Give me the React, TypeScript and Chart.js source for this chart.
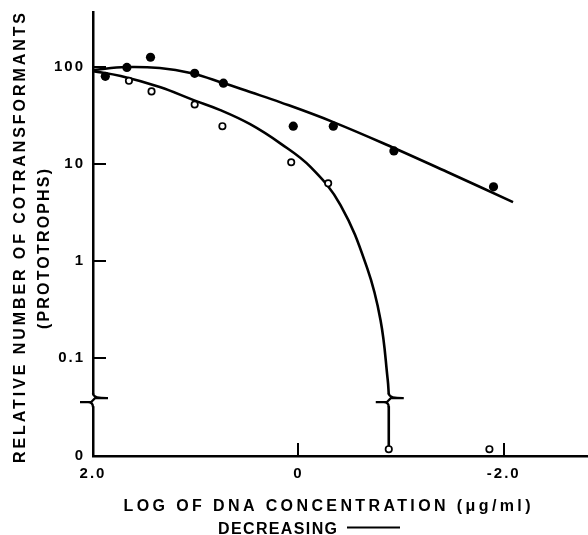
import React, { useEffect, useRef } from 'react';
import { Chart, registerables } from 'chart.js';

Chart.register(...registerables);

// Measured points (log DNA concentration, relative number of cotransformants)
const filledX = [1.88, 1.67, 1.44, 1.01, 0.73, 0.05, -0.34, -0.93, -1.9];
const filledY = [80, 99, 126, 86, 68, 24.5, 24.5, 13.6, 5.8];
const openX = [1.65, 1.43, 1.01, 0.74, 0.07, -0.29, -0.88, -1.86];
const openY = [72, 56, 41, 24.5, 10.4, 6.3, 0, 0];

// Hand-drawn fitted curves
const fitFilledX = [2.0, 1.68, 1.35, 1.05, 0.73, 0.47, 0.18, -0.34, -0.93, -1.45, -2.09];
const fitFilledY = [93, 99.8, 97.4, 86.6, 68.2, 55.1, 43.4, 27.0, 14.6, 8.24, 4.04];
const fitOpenX = [2.0, 1.73, 1.35, 1.02, 0.76, 0.47, 0.18, -0.12, -0.41, -0.67, -0.8, -0.87, -0.88];
const fitOpenY = [90.7, 80.6, 62.0, 45.5, 35.9, 25.7, 16.4, 9.27, 3.76, 0.84, 0.244, 0.059, 0.042];
const openTailX = [-0.88, -0.88];
const openTailY = [0.0316, 0];

// Ticks
const xTickValues = [2, 0, -2];
const xTickLabels = ['2.0', '0', '-2.0'];
const yTickValues = [0, 0.1, 1, 10, 100];
const yTickLabels = ['0', '0.1', '1', '10', '100'];

// Axis ranges and break
const X_MIN = -2.82;
const X_MAX = 2.0;
const Y_MIN = 0.0097; // axis bottom, labelled "0"
const Y_MAX = 369;
const ZERO_PLOT = 0.0114; // where zero values sit, just above the axis
const BREAK_Y = 0.0365;
const BREAK_X = -0.88;

const yTitle1 = 'RELATIVE NUMBER OF COTRANSFORMANTS';
const yTitle2 = '(PROTOTROPHS)';
const xTitle1 = 'LOG OF DNA CONCENTRATION (\u03bcg/ml)';
const xTitle2 = 'DECREASING';

const FONT_FAMILY = '"Liberation Sans", Arial, Helvetica, sans-serif';

const plotY = (v: number) => (v === 0 ? ZERO_PLOT : v);
const toPts = (xs: number[], ys: number[]) => xs.map((x, i) => ({ x, y: plotY(ys[i]) }));

function drawSpaced(ctx: CanvasRenderingContext2D, text: string, cx: number, cy: number, width: number, rotate: boolean, size: number) {
  ctx.save();
  ctx.translate(cx, cy);
  if (rotate) ctx.rotate(-Math.PI / 2);
  (ctx as any).letterSpacing = '0px';
  const w0 = ctx.measureText(text).width;
  const n = Array.from(text).length;
  const sp = (width - w0) / (n - 1);
  (ctx as any).letterSpacing = sp + 'px';
  ctx.textAlign = 'left';
  ctx.textBaseline = 'alphabetic';
  ctx.fillText(text, -width / 2, size * 0.716 / 2);
  ctx.restore();
}

function drawBreak(ctx: CanvasRenderingContext2D, cx: number, cy: number) {
  ctx.beginPath();
  ctx.moveTo(cx, cy - 7);
  ctx.quadraticCurveTo(cx, cy - 2, cx + 14, cy - 2);
  ctx.moveTo(cx + 15, cy - 2);
  ctx.lineTo(cx + 2, cy - 2);
  ctx.lineTo(cx - 2, cy + 2);
  ctx.lineTo(cx - 13, cy + 2);
  ctx.moveTo(cx - 5, cy + 2);
  ctx.quadraticCurveTo(cx, cy + 2, cx, cy + 7);
  ctx.stroke();
}

const decor = {
  id: 'decor',
  beforeDraw(chart: any) {
    chart.ctx.letterSpacing = '2px';
  },
  afterDraw(chart: any) {
    const { ctx, chartArea: ca, scales } = chart;
    const x = scales.x;
    const y = scales.y;
    ctx.save();
    ctx.letterSpacing = '0px';
    ctx.strokeStyle = '#000';
    ctx.lineWidth = 2;
    // inward tick marks
    ctx.beginPath();
    for (const v of yTickValues) {
      if (v === 0) continue;
      const py = Math.round(y.getPixelForValue(v));
      ctx.moveTo(ca.left, py);
      ctx.lineTo(ca.left + 13, py);
    }
    for (const v of xTickValues) {
      if (v === X_MAX) continue;
      const px = Math.round(x.getPixelForValue(v));
      ctx.moveTo(px, ca.bottom);
      ctx.lineTo(px, ca.bottom - 13);
    }
    ctx.stroke();
    // axis break on y axis
    const by = y.getPixelForValue(BREAK_Y);
    ctx.fillStyle = '#fff';
    ctx.fillRect(ca.left - 3, by - 6, 6, 12);
    ctx.lineWidth = 2.3;
    drawBreak(ctx, ca.left, by);
    // break on open-circle curve
    drawBreak(ctx, x.getPixelForValue(BREAK_X), by);
    // titles
    ctx.fillStyle = '#000';
    const size = 16;
    ctx.font = `bold ${size}px ${FONT_FAMILY}`;
    drawSpaced(ctx, yTitle1, ca.left - 74, 238, 450, true, size);
    drawSpaced(ctx, yTitle2, ca.left - 50, 249, 160, true, size);
    drawSpaced(ctx, xTitle1, 327, ca.bottom + 49, 407, false, size);
    drawSpaced(ctx, xTitle2, 277.5, ca.bottom + 72, 119, false, size);
    ctx.lineWidth = 2;
    ctx.beginPath();
    ctx.moveTo(347, ca.bottom + 71.5);
    ctx.lineTo(400, ca.bottom + 71.5);
    ctx.stroke();
    ctx.restore();
  },
};

export default function App() {
  const ref = useRef<HTMLCanvasElement>(null);
  useEffect(() => {
    const tickFont = { family: FONT_FAMILY, size: 15, weight: 'bold' as const };
    const lineDs = (xs: number[], ys: number[], tension: number) => ({
      data: toPts(xs, ys),
      showLine: true,
      pointRadius: 0,
      borderColor: '#000',
      backgroundColor: '#000',
      borderWidth: 2.6,
      tension,
      order: 2,
    });
    const chart = new Chart(ref.current as HTMLCanvasElement, {
      type: 'scatter',
      data: {
        datasets: [
          {
            data: toPts(filledX, filledY),
            pointRadius: 4.6,
            pointBackgroundColor: '#000',
            pointBorderColor: '#000',
            pointBorderWidth: 0,
            showLine: false,
            order: 0,
          },
          {
            data: toPts(openX, openY),
            pointRadius: 3.2,
            pointBackgroundColor: '#fff',
            pointBorderColor: '#000',
            pointBorderWidth: 1.7,
            showLine: false,
            order: 0,
          },
          lineDs(fitFilledX, fitFilledY, 0.4),
          lineDs(fitOpenX, fitOpenY, 0.4),
          lineDs(openTailX, openTailY, 0),
        ] as any,
      },
      options: {
        responsive: false,
        animation: false,
        events: [],
        layout: { autoPadding: false, padding: { top: 12, right: 0, left: 0, bottom: 0 } },
        plugins: { legend: { display: false }, tooltip: { enabled: false } },
        scales: {
          x: {
            type: 'linear',
            reverse: true,
            min: X_MIN,
            max: X_MAX,
            grid: { display: true, drawOnChartArea: false, drawTicks: false },
            border: { display: true, color: '#000', width: 2.5 },
            ticks: {
              color: '#000',
              font: tickFont,
              padding: 9,
              maxRotation: 0,
              autoSkip: false,
              callback: (v: any) => {
                const i = xTickValues.indexOf(Number(v));
                return i >= 0 ? xTickLabels[i] : '';
              },
            },
            afterBuildTicks: (s: any) => {
              s.ticks = xTickValues.map((v) => ({ value: v }));
            },
            afterFit: (s: any) => {
              s.height = 79;
              s.paddingLeft = 0;
              s.paddingRight = 0;
            },
          },
          y: {
            type: 'logarithmic',
            min: Y_MIN,
            max: Y_MAX,
            grid: { display: true, drawOnChartArea: false, drawTicks: false },
            border: { display: true, color: '#000', width: 2.5 },
            ticks: {
              color: '#000',
              font: tickFont,
              padding: 8,
              autoSkip: false,
              callback: (v: any) => {
                const n = Number(v);
                if (Math.abs(n - Y_MIN) < 1e-9) return yTickLabels[0];
                const i = yTickValues.findIndex((t) => t !== 0 && Math.abs(t - n) < 1e-9 * Math.max(1, t));
                return i >= 0 ? yTickLabels[i] : '';
              },
            },
            afterBuildTicks: (s: any) => {
              s.ticks = yTickValues.map((v) => ({ value: v === 0 ? Y_MIN : v }));
            },
            afterFit: (s: any) => {
              s.width = 93;
              s.paddingTop = 0;
              s.paddingBottom = 0;
            },
          },
        },
      } as any,
      plugins: [decor],
    });
    return () => chart.destroy();
  }, []);
  return (
    <div style={{ position: 'absolute', left: 0, top: 0, width: 588, height: 535, background: '#fff' }}>
      <canvas ref={ref} width={588} height={535} style={{ display: 'block', width: 588, height: 535 }} />
    </div>
  );
}
